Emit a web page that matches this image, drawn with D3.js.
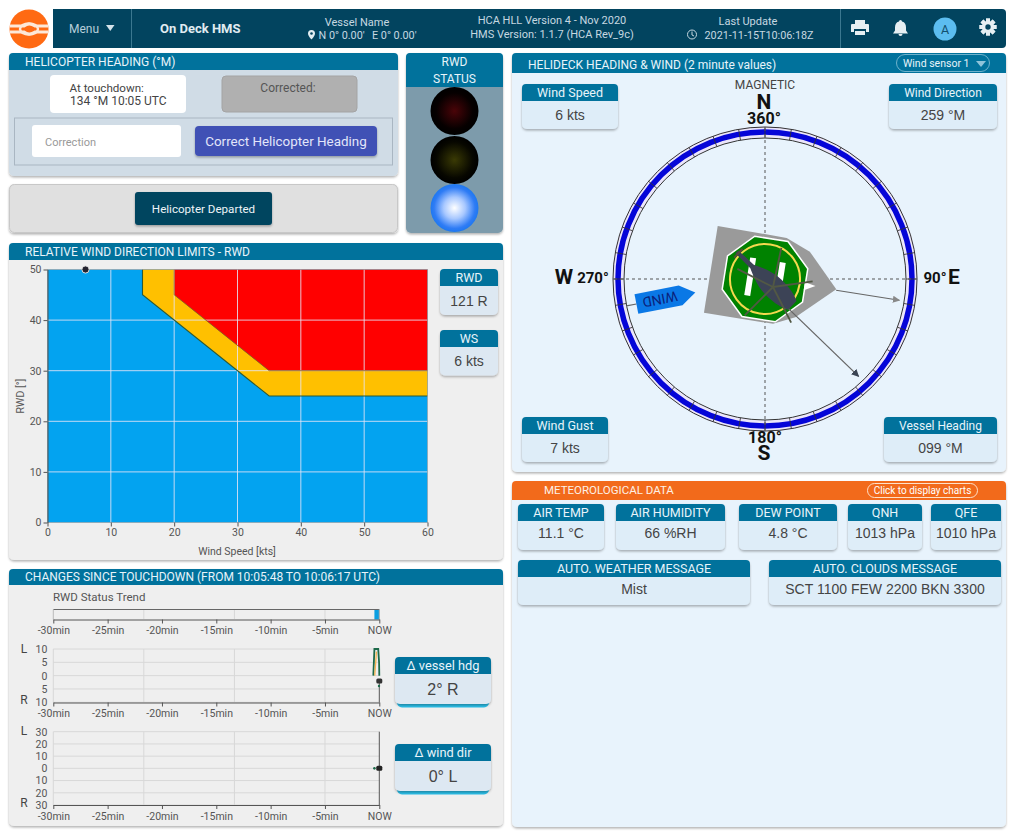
<!DOCTYPE html>
<html><head><meta charset="utf-8">
<script src="https://cdn.jsdelivr.net/npm/d3@7"></script>
<style>
html,body{margin:0;padding:0;background:#fff;overflow:hidden}
svg{display:block}
text{font-family:Roboto,"Liberation Sans",Arial,sans-serif}
text.val{font-family:"Liberation Sans",Arial,sans-serif}
</style></head><body>
<svg id="c" width="1024" height="837"></svg>
<script>
// ---- data ----
const limitLowX=[15,15,35,60], limitLowY=[50,45,25,25];
const limitHighX=[20,20,35,60], limitHighY=[50,45,30,30];
const rwdTicksX=[0,10,20,30,40,50,60], rwdTicksY=[0,10,20,30,40,50];
const currentWs=6, currentRwdClamped=50;
const trendTicks=[-30,-25,-20,-15,-10,-5,0];
const trendTickLabels=["-30min","-25min","-20min","-15min","-10min","-5min","NOW"];
const trendGrid=[-21.67,-13.33,-5];
const statusFrom=-0.45, statusTo=0;
const hdgTicks=[10,5,0,-5,-10], hdgLabels=["10","5","0","5","10"];
const windTicks=[30,20,10,0,-10,-20,-30], windLabels=["30","20","10","0","10","20","30"];
const hdgT=[-0.55,-0.45,-0.1,-0.02,0], hdgV=[0,10,10,5,0];
const hdgT2=[-0.42,-0.26], hdgV2=[0,9];
const hdgNow=-2, windNow=0, windPrevT=-0.45, windPrevV=0;
const vesselHeading=99, helicopterHeading=134, windDirection=259;
const compassMajor=d3.range(0,360,10);
const rotorBlades=[12,82,153,225,297];

const svg=d3.select("#c");
const DARK="#02445f",TEAL="#01729c",TXT="#444";
function rr(x,y,w,h,r,f,extra={}){const s=svg.append("rect").attr("x",x).attr("y",y).attr("width",w).attr("height",h).attr("rx",r).attr("fill",f);
  for(const k in extra)s.attr(k,extra[k]);return s;}
function tx(x,y,t,size,fill,anchor="start",weight="normal",parent=svg){return parent.append("text").attr("x",x).attr("y",y).attr("font-size",size).attr("fill",fill).attr("text-anchor",anchor).attr("font-weight",weight).text(t);}
const defs=svg.append("defs");
const sh=defs.append("filter").attr("id","sh").attr("x","-10%").attr("y","-10%").attr("width","120%").attr("height","130%");
sh.append("feDropShadow").attr("dx",0).attr("dy",1.5).attr("stdDeviation",1.2).attr("flood-color","#000").attr("flood-opacity",.3);
function panel(x,y,w,h,bg,headH,head,title,size=12){
  rr(x,y,w,h,5,bg,{filter:"url(#sh)"});
  svg.append("path").attr("d",`M${x},${y+headH}V${y+4}q0,-4 4,-4H${x+w-4}q4,0 4,4V${y+headH}Z`).attr("fill",head);
  if(title)tx(x+16,y+headH-4.5,title,size,"#e8f4fa");
}
function card(x,y,w,h,title,val,hh=17,vs=14,ts=12.5,bg="#deedf8",glow=false,vOff=0){
  if(glow){rr(x+2,y+3.5,w-4,h,5,"#2cc0ea");}
  rr(x,y,w,h,5,bg,{filter:"url(#sh)"});
  svg.append("path").attr("d",`M${x},${y+hh}V${y+4}q0,-4 4,-4H${x+w-4}q4,0 4,4V${y+hh}Z`).attr("fill",TEAL);
  tx(x+w/2,y+hh-4,title,ts,"#e8f4fa","middle");
  tx(x+w/2,y+hh+(h-hh)/2+vs*.36+vOff,val,vs,TXT,"middle").attr("class","val");
}

// ---- header ----
svg.append("circle").attr("cx",29).attr("cy",29).attr("r",19.5).attr("fill","#ff6a13");
svg.append("path").attr("d","M10,26H24Q29,22 35,26H48M10,32H24Q29,36 35,32H48").attr("stroke","#fde8d8").attr("stroke-width",3).attr("fill","none");
svg.append("ellipse").attr("cx",29).attr("cy",29).attr("rx",9).attr("ry",5.5).attr("fill","none").attr("stroke","#fde8d8").attr("stroke-width",2.5);
svg.append("path").attr("d",`M53,9H1002q4,0 4,4V44q0,4 -4,4H53Z`).attr("fill",DARK);
svg.append("path").attr("d","M131.5,9V48M840.5,9V48").attr("stroke","#3b7890").attr("stroke-width",1);
tx(69,33,"Menu",12,"#b8cfda");
svg.append("path").attr("d","M106,25h8.5l-4.25,6z").attr("fill","#d5e3ea");
tx(160,32.5,"On Deck HMS",13,"#e0ecf1","start","bold");
tx(357,26,"Vessel Name",11,"#c6d8e1","middle");
tx(318.5,38.5,"N 0° 0.00'",10.8,"#c6d8e1");
tx(372,38.5,"E 0° 0.00'",10.8,"#c6d8e1");
svg.append("path").attr("d","M311.5,30a3.5,3.5 0 0 1 3.5,3.5c0,2.5 -3.5,6 -3.5,6s-3.5,-3.5 -3.5,-6a3.5,3.5 0 0 1 3.5,-3.5z").attr("fill","#e0ecf1");
svg.append("circle").attr("cx",311.5).attr("cy",33.5).attr("r",1.3).attr("fill",DARK);
tx(552,23.5,"HCA HLL Version 4 - Nov 2020",11,"#c6d8e1","middle");
tx(552,37.5,"HMS Version: 1.1.7 (HCA Rev_9c)",11,"#c6d8e1","middle");
tx(748,25,"Last Update",11,"#c6d8e1","middle");
tx(704.5,38.5,"2021-11-15T10:06:18Z",10.8,"#c6d8e1");
svg.append("circle").attr("cx",692).attr("cy",34.5).attr("r",4.5).attr("fill","none").attr("stroke","#c6d8e1");
svg.append("path").attr("d","M692,31.5V35l2,1").attr("fill","none").attr("stroke","#c6d8e1");
// icons
svg.append("path").attr("d","M855,20h10v4h-10zM852,24h16a1,1 0 0 1 1,1v7h-3v-3h-12v3h-3v-7a1,1 0 0 1 1,-1zM855,31h10v4h-10z").attr("fill","#e6eff3");
svg.append("path").attr("d","M900.5,20a1.5,1.5 0 0 1 1.5,1.5c3,.7 4,3 4,6v3l2,3h-15l2,-3v-3c0,-3 1,-5.3 4,-6a1.5,1.5 0 0 1 1.5,-1.5zM898.5,34h4a2,2 0 0 1 -4,0z").attr("fill","#e6eff3");
svg.append("circle").attr("cx",945).attr("cy",29).attr("r",11.5).attr("fill","#5cbdf0");
tx(945,33.5,"A",12.5,"#12506e","middle");
svg.append("g").attr("transform","translate(988,27)").call(g=>{
  g.selectAll("rect").data(d3.range(0,360,45)).join("rect").attr("x",-2).attr("y",-8.5).attr("width",4).attr("height",17).attr("fill","#e6eff3").attr("transform",d=>`rotate(${d})`);
  g.append("circle").attr("r",6).attr("fill","#e6eff3");g.append("circle").attr("r",2.7).attr("fill",DARK);
});

// ---- helicopter heading ----
panel(9,53,389,123,"#d0dce6",17,TEAL,"HELICOPTER HEADING (°M)");
rr(50,75,136,38,4,"#fff");
tx(69.5,92,"At touchdown:",11.6,TXT);tx(70,105,"134 °M 10:05 UTC",12,TXT);
rr(222,76,135,36,4,"#b0b0b0",{stroke:"#a4a4a4"});
tx(288,92,"Corrected:",12,"#555","middle");
rr(14.5,118,378,47,0,"none",{stroke:"#a9b6c2"});
rr(32,125,149,32,3,"#fff");
tx(45,145.5,"Correction",11,"#999");
rr(195,126,182,30,4,"#3f51b5",{filter:"url(#sh)"});
tx(286,145.5,"Correct Helicopter Heading",13.4,"#e3e6fa","middle");
panel(9,184,389,49,"#e0e0e0",0,"none");
rr(9.5,184.5,388,48,5,"none",{stroke:"#c8c8c8"});
rr(135,192,137,33,3,DARK,{filter:"url(#sh)"});
tx(203.5,213,"Helicopter Departed",11.6,"#eef4f7","middle");

// ---- RWD status ----
panel(406,53,97,180,"#7d9bab",34,TEAL);
tx(454.5,66,"RWD",12,"#e8f4fa","middle");tx(454.5,82.5,"STATUS",12,"#e8f4fa","middle");
const gr=(id,stops)=>{const g=defs.append("radialGradient").attr("id",id);stops.forEach(s=>g.append("stop").attr("offset",s[0]).attr("stop-color",s[1]));};
gr("gRed",[[0,"#4a0408"],[.75,"#060000"],[1,"#000"]]);
gr("gYel",[[0,"#3a3a04"],[.75,"#070700"],[1,"#000"]]);
gr("gBlu",[[0,"#ffffff"],[.45,"#a8c8ff"],[.85,"#2f7cf5"],[1,"#1e78f0"]]);
[[111,"gRed"],[160,"gYel"],[208,"gBlu"]].forEach(d=>svg.append("circle").attr("cx",454.5).attr("cy",d[0]).attr("r",24).attr("fill",`url(#${d[1]})`));

// ---- RWD limits chart ----
panel(9,243,494,317,"#efefef",17,TEAL,"RELATIVE WIND DIRECTION LIMITS - RWD");
const xR=d3.scaleLinear().domain([0,60]).range([47.5,427.5]);
const yR=d3.scaleLinear().domain([0,50]).range([522.5,269.5]);
const lowPts=limitLowX.map((x,i)=>[x,limitLowY[i]]), highPts=limitHighX.map((x,i)=>[x,limitHighY[i]]);
const ln=d3.line().x(d=>xR(d[0])).y(d=>yR(d[1]));
svg.append("rect").attr("x",xR(0)).attr("y",yR(50)).attr("width",xR(60)-xR(0)).attr("height",yR(0)-yR(50)).attr("fill","#03a3f0");
svg.append("path").attr("d",ln(lowPts.concat(highPts.slice().reverse()))+"Z").attr("fill","#ffc000");
svg.append("path").attr("d",ln(highPts.concat([[60,50]]))+"Z").attr("fill","#ff0000");
svg.selectAll(".gx").data(rwdTicksX.slice(1,-1)).join("line").attr("x1",d=>xR(d)).attr("x2",d=>xR(d)).attr("y1",yR(0)).attr("y2",yR(50)).attr("stroke","#e4e4f6").attr("stroke-opacity",.85);
svg.selectAll(".gy").data(rwdTicksY.slice(1,-1)).join("line").attr("y1",d=>yR(d)).attr("y2",d=>yR(d)).attr("x1",xR(0)).attr("x2",xR(60)).attr("stroke","#e4e4f6").attr("stroke-opacity",.85);
svg.append("path").attr("d",ln(lowPts)).attr("fill","none").attr("stroke","#2d5a34").attr("stroke-width",1.1);
svg.append("path").attr("d",ln(highPts)).attr("fill","none").attr("stroke","#8f5a10").attr("stroke-width",.8);
svg.append("rect").attr("x",xR(0)).attr("y",yR(50)).attr("width",xR(60)-xR(0)).attr("height",yR(0)-yR(50)).attr("fill","none").attr("stroke","#999").attr("stroke-opacity",.6);
function styleAxis(g,size,color="#555"){g.selectAll("text").attr("font-size",size).attr("fill",color).attr("font-family","Roboto");g.selectAll("line").attr("stroke","#555");g.select(".domain").attr("stroke","#555");}
svg.append("g").attr("transform",`translate(0,${yR(0)})`).call(d3.axisBottom(xR).tickValues(rwdTicksX).tickSize(4).tickSizeOuter(0).tickPadding(2)).call(g=>styleAxis(g,10.5)).call(g=>g.select(".domain").remove());
svg.append("g").attr("transform",`translate(${xR(0)},0)`).call(d3.axisLeft(yR).tickValues(rwdTicksY).tickSize(4).tickSizeOuter(0).tickPadding(2)).call(g=>styleAxis(g,10.5));
tx(237,555,"Wind Speed [kts]",10.5,"#555","middle");
tx(0,0,"RWD [°]",10.5,"#555","middle").attr("transform","translate(23.5,396) rotate(-90)");
svg.append("circle").attr("cx",xR(currentWs)).attr("cy",yR(currentRwdClamped)).attr("r",3.6).attr("fill","#23232f").attr("stroke","#ddd").attr("stroke-width",1);
card(440,269,58,46,"RWD","121 R",17,14,12.5,"#dde8f2");
card(440,330,58,45.5,"WS","6 kts",17,14,12.5,"#dde8f2");

// ---- Changes since touchdown ----
panel(9,569,494,257,"#efefef",16,TEAL,"CHANGES SINCE TOUCHDOWN (FROM 10:05:48 TO 10:06:17 UTC)");
tx(53,601,"RWD Status Trend",11.5,"#555");
const xT=d3.scaleLinear().domain([-30,0]).range([53.3,379.3]);
function trendAxis(y){
  svg.append("g").attr("transform",`translate(0,${y})`).call(d3.axisBottom(xT).tickValues(trendTicks).tickFormat((d,i)=>trendTickLabels[i]).tickSize(4).tickSizeOuter(0).tickPadding(3.5)).call(g=>styleAxis(g,10.5));
}
function vgrid(y0,y1){svg.selectAll(null).data(trendGrid).join("line").attr("x1",d=>xT(d)).attr("x2",d=>xT(d)).attr("y1",y0).attr("y2",y1).attr("stroke","#d8d8d8");}
vgrid(609.5,619);
svg.append("rect").attr("x",xT(statusFrom)).attr("y",609.5).attr("width",xT(statusTo)-xT(statusFrom)).attr("height",10).attr("fill","#0a9ee0");
svg.append("line").attr("x1",53.3).attr("x2",379.3).attr("y1",609.5).attr("y2",609.5).attr("stroke","#666");
svg.append("line").attr("x1",379.3).attr("x2",379.3).attr("y1",609.5).attr("y2",619.5).attr("stroke","#aaa");
svg.append("line").attr("x1",53.3).attr("x2",53.3).attr("y1",609.5).attr("y2",619.5).attr("stroke","#bbb");
trendAxis(619.5);
// vessel heading
const yH=d3.scaleLinear().domain([-10,10]).range([702.3,649]);
function hgrid(ticks,y,x0=xT(-30),x1=xT(0)){svg.selectAll(null).data(ticks).join("line").attr("x1",x0).attr("x2",x1).attr("y1",d=>y(d)).attr("y2",d=>y(d)).attr("stroke","#d8d8d8");}
vgrid(649,702.3);hgrid(hdgTicks,yH);
svg.append("line").attr("x1",xT(-30)).attr("x2",xT(-30)).attr("y1",649).attr("y2",702.3).attr("stroke","#d8d8d8");
trendAxis(702.5);
svg.append("g").attr("transform",`translate(${xT(-30)-4},0)`).call(d3.axisLeft(yH).tickValues(hdgTicks).tickFormat((d,i)=>hdgLabels[i]).tickSize(0).tickPadding(2)).call(g=>styleAxis(g,10.5)).call(g=>g.select(".domain").remove());
tx(24,652.5,"L",12,"#444","middle");tx(24,704,"R",12,"#444","middle");
const lT=d3.line().x(d=>xT(d[0])).y(d=>yH(d[1]));
svg.append("line").attr("x1",xT(0)).attr("x2",xT(0)).attr("y1",yH(hdgNow)).attr("y2",702.5).attr("stroke","#555");
svg.append("path").attr("d",lT(hdgT.map((t,i)=>[t,hdgV[i]]))).attr("fill","none").attr("stroke","#1d6a4a").attr("stroke-width",1.8);
svg.append("path").attr("d",lT(hdgT2.map((t,i)=>[t,hdgV2[i]]))).attr("fill","none").attr("stroke","#f5b450").attr("stroke-width",1.3);
svg.append("rect").attr("x",xT(0)-3).attr("y",yH(hdgNow)-2.5).attr("width",6).attr("height",5).attr("rx",1.5).attr("fill","#333");
svg.append("circle").attr("cx",xT(0)-.3).attr("cy",yH(hdgNow)+5).attr("r",1.2).attr("fill","#1d6a4a");
// wind dir
const yW=d3.scaleLinear().domain([-30,30]).range([805,731.7]);
vgrid(731.7,805);hgrid(windTicks,yW);
svg.append("line").attr("x1",xT(-30)).attr("x2",xT(-30)).attr("y1",731.7).attr("y2",805).attr("stroke","#d8d8d8");
trendAxis(805);
svg.append("g").attr("transform",`translate(${xT(-30)-4},0)`).call(d3.axisLeft(yW).tickValues(windTicks).tickFormat((d,i)=>windLabels[i]).tickSize(0).tickPadding(2)).call(g=>styleAxis(g,10.5)).call(g=>g.select(".domain").remove());
tx(24,734.5,"L",12,"#444","middle");tx(24,807,"R",12,"#444","middle");
svg.append("line").attr("x1",xT(0)).attr("x2",xT(0)).attr("y1",731.7).attr("y2",805).attr("stroke","#555");
svg.append("circle").attr("cx",xT(windPrevT)).attr("cy",yW(windPrevV)).attr("r",1.3).attr("fill","#1d6a4a");
svg.append("rect").attr("x",xT(0)-3).attr("y",yW(windNow)-2.5).attr("width",6).attr("height",5).attr("rx",1.5).attr("fill","#222");
card(395,657,96,47,"Δ vessel hdg","2° R",17,16,12.8,"#dde8f2",true);
card(395,744,96,47,"Δ wind dir","0° L",17,16,12.8,"#dde8f2",true);

// ---- Helideck ----
panel(512,53,494,419,"#e8f3fc",20,TEAL,"HELIDECK HEADING & WIND (2 minute values)");
rr(896.5,54.5,93,17,8.5,"none",{stroke:"#6fb2cc"});
tx(903,67,"Wind sensor 1",10.5,"#e8f4fa");
svg.append("path").attr("d","M976,61h10l-5,6z").attr("fill","#8fc4da");
card(522,84,96,45,"Wind Speed","6 kts",17,14);
card(889,84,108,45,"Wind Direction","259 °M",17,14,12);
card(522,417,86,45,"Wind Gust","7 kts",17,14);
card(884,417,113,45,"Vessel Heading","099 °M",17,14,12);
const cx=765,cy=279;
const G=svg.append("g").attr("transform",`translate(${cx},${cy})`);
G.append("circle").attr("r",147).attr("fill","none").attr("stroke","#ece6fa").attr("stroke-width",11);
G.append("circle").attr("r",147).attr("fill","none").attr("stroke","#0505d8").attr("stroke-width",5.5);
G.append("circle").attr("r",152).attr("fill","none").attr("stroke","#333").attr("stroke-width",1);
G.append("circle").attr("r",141).attr("fill","none").attr("stroke","#333").attr("stroke-width",1);
G.selectAll(".t").data(compassMajor).join("line").attr("y1",-141).attr("y2",-152).attr("stroke","#333").attr("stroke-width",.8).attr("transform",d=>`rotate(${d})`);
G.append("path").attr("d","M0,-151V151M-151,0H151").attr("stroke","#555").attr("stroke-width",1).attr("stroke-dasharray","3 3");
// deck rotated by vessel heading
const deck=G.append("g").attr("transform",`rotate(${vesselHeading-90})`);
deck.append("polygon").attr("points","-55,-45 15,-44 40,-34 72,-1 36,33 15,43 -55,43").attr("fill","#9a9a9a");
const oct=d3.range(8).map(i=>{const a=(22.5+45*i)*Math.PI/180;return [44*Math.sin(a),-44*Math.cos(a)].join(",");}).join(" ");
deck.append("polygon").attr("points",oct).attr("fill","#008200").attr("stroke","#fff").attr("stroke-width",1.5);
deck.append("circle").attr("r",35).attr("fill","none").attr("stroke","#f5d94e").attr("stroke-width",2);
deck.append("rect").attr("x",-18).attr("y",-19).attr("width",6).attr("height",38).attr("fill","#fff");
deck.append("rect").attr("x",12).attr("y",-19).attr("width",6).attr("height",38).attr("fill","#fff");
deck.append("polygon").attr("points","40,-3 51,-1 40,5").attr("fill","#fff");
const mk=defs.append("marker").attr("id","ah").attr("viewBox","0 0 10 10").attr("refX",9).attr("refY",5).attr("markerWidth",6).attr("markerHeight",6).attr("orient","auto");
mk.append("path").attr("d","M0,0L10,5L0,10Z").attr("fill","#888");
const mk2=defs.append("marker").attr("id","ah2").attr("viewBox","0 0 10 10").attr("refX",9).attr("refY",5).attr("markerWidth",6).attr("markerHeight",6).attr("orient","auto");
mk2.append("path").attr("d","M0,0L10,5L0,10Z").attr("fill","#3a4454");
// vessel heading arrow
G.append("g").attr("transform",`rotate(${vesselHeading})`).append("line").attr("y1",-72).attr("y2",-136).attr("stroke","#666").attr("stroke-width",1.2).attr("marker-end","url(#ah)");
// helicopter
const heli=G.append("g").attr("transform",`rotate(${helicopterHeading})`);
heli.append("line").attr("x1",5).attr("x2",5).attr("y1",-36).attr("y2",-135).attr("stroke","#666").attr("stroke-width",1.3).attr("marker-end","url(#ah2)");
heli.append("path").attr("d","M-6,-38H6C9,-33 11,-24 11,-12C11,0 6,10 2.5,18L2,39H-2L-2.5,18C-6,10 -11,0 -11,-12C-11,-24 -9,-33 -6,-38Z").attr("fill","#3c4356");
heli.append("line").attr("x1",-6).attr("x2",6).attr("y1",37).attr("y2",37).attr("stroke","#5a4a3a").attr("stroke-width",2);
G.append("g").attr("transform","translate(8,8)").selectAll("line").data(rotorBlades).join("line").attr("y2",-40).attr("stroke","#525844").attr("stroke-width",1.8).attr("transform",d=>`rotate(${d})`);
// wind flag
const flag=G.append("g").attr("transform",`rotate(${windDirection})`);
flag.append("line").attr("y1",-131).attr("y2",-141).attr("stroke","#666").attr("stroke-width",1.2);
flag.append("polygon").attr("points","0,-71 10,-86 10,-131 -10,-131 -10,-86").attr("fill","#0a78e6");
flag.append("text").attr("transform","translate(0,-107) rotate(-90)").attr("text-anchor","middle").attr("dy",".36em").attr("font-size",14).attr("fill","#0b1f7a").text("WIND");
// compass labels
tx(765,89,"MAGNETIC",12,"#444","middle");
tx(764,108.5,"N",21,"#111","middle","bold");
tx(764,123.5,"360°",16,"#111","middle","bold");
tx(765,443,"180°",16,"#111","middle","bold");
tx(764,460,"S",21,"#111","middle","bold");
tx(564,284,"W",21,"#111","middle","bold");
tx(593,283,"270°",15,"#111","middle","bold");
tx(935,283,"90°",15,"#111","middle","bold");
tx(954,284,"E",21,"#111","middle","bold");

// ---- Met ----
panel(512,481,494,346,"#e8f3fc",19,"#f26a1b");
tx(544,494,"METEOROLOGICAL DATA",11.5,"#fdf0e6");
rr(867.5,483.5,110,14,7,"none",{stroke:"#ffe0c8"});
tx(922.5,494,"Click to display charts",10,"#fff","middle");
card(518,504,86,46,"AIR TEMP","11.1 °C",17,14,12.5,"#deedf8",false,-2.5);
card(616,504,109,46,"AIR HUMIDITY","66 %RH",17,14,12.5,"#deedf8",false,-2.5);
card(739,504,98,46,"DEW POINT","4.8 °C",17,14,12.5,"#deedf8",false,-2.5);
card(848,504,74,46,"QNH","1013 hPa",17,14,12.5,"#deedf8",false,-2.5);
card(931,504,70,46,"QFE","1010 hPa",17,14,12.5,"#deedf8",false,-2.5);
card(518,560,232,45,"AUTO. WEATHER MESSAGE","Mist",17,14,12.5,"#deedf8",false,-2);
card(769,560,232,45,"AUTO. CLOUDS MESSAGE","SCT 1100 FEW 2200 BKN 3300",17,14,12.5,"#deedf8",false,-2);
</script></body></html>
